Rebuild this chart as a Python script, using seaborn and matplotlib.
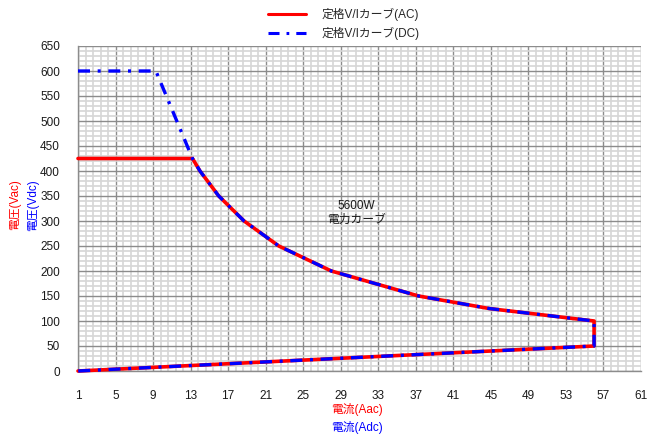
import matplotlib
matplotlib.use("Agg")
import matplotlib.pyplot as plt
from matplotlib.ticker import FixedLocator, NullFormatter
from matplotlib.lines import Line2D
import numpy as np
import seaborn as sns

# Rated V/I curve, AC side (current in A, voltage in V)
ac_current = [1, 13.2, 14, 16, 18.7, 22.4, 28, 37.3, 44.8, 56, 56, 1]
ac_voltage = [425, 425, 400, 350, 300, 250, 200, 150, 125, 100, 50, 0]

# Rated V/I curve, DC side
dc_current = [1, 9.3, 13.2, 14, 16, 18.7, 22.4, 28, 37.3, 44.8, 56, 56, 1]
dc_voltage = [600, 600, 425, 400, 350, 300, 250, 200, 150, 125, 100, 50, 0]

x_ticks = [1, 5, 9, 13, 17, 21, 25, 29, 33, 37, 41, 45, 49, 53, 57, 61]
y_ticks = [0, 50, 100, 150, 200, 250, 300, 350, 400, 450, 500, 550, 600, 650]

ac_label = "定格V/Iカーブ(AC)"
dc_label = "定格V/Iカーブ(DC)"
power_note = "5600W\n電力カーブ"

sns.set_style("white")
plt.rcParams["font.family"] = ["Liberation Sans", "Noto Sans CJK JP", "DejaVu Sans"]
plt.rcParams["font.size"] = 8

fig = plt.figure(figsize=(6.52, 4.38), dpi=100)
ax = fig.add_axes([78 / 652, 1 - 371 / 438, (641 - 78) / 652, (371 - 46) / 438])

dash_pattern = (0, (3.6, 2.3, 0.9, 2.3))

sns.lineplot(x=ac_current, y=ac_voltage, sort=False, estimator=None,
             color="#ff0000", linewidth=2.6, ax=ax, label=ac_label, clip_on=False,
             zorder=3)
sns.lineplot(x=dc_current, y=dc_voltage, sort=False, estimator=None,
             color="#0000ff", linewidth=2.4, ax=ax, label=dc_label, clip_on=False,
             zorder=4)
dc_line = ax.lines[-1]
dc_line.set_linestyle(dash_pattern)
dc_line.set_dash_capstyle("butt")

ax.set_xlim(1, 61)
ax.set_ylim(0, 650)

ax.xaxis.set_major_locator(FixedLocator(x_ticks))
ax.yaxis.set_major_locator(FixedLocator(y_ticks))
ax.xaxis.set_minor_locator(FixedLocator(np.arange(1, 61.01, 0.8)))
ax.yaxis.set_minor_locator(FixedLocator(np.arange(0, 650.1, 10)))
ax.xaxis.set_minor_formatter(NullFormatter())
ax.yaxis.set_minor_formatter(NullFormatter())

ax.grid(which="minor", color="#d6d6d6", linewidth=1.2, zorder=0)
ax.grid(which="major", color="#8c8c8c", linewidth=1.0, zorder=1)
ax.set_axisbelow(True)

for side in ("top", "right"):
    ax.spines[side].set_visible(False)
for side in ("left", "bottom"):
    ax.spines[side].set_color("#8c8c8c")
    ax.spines[side].set_linewidth(1.0)

ax.tick_params(which="major", direction="out", length=5, width=1,
               color="#8c8c8c", labelsize=8.5, labelcolor="#1a1a1a")
ax.tick_params(axis="x", which="major", pad=9)
ax.tick_params(axis="y", which="major", pad=8)
ax.tick_params(which="minor", length=0)

ax.set_xlabel("")
ax.set_ylabel("")

ax.text(30.7, 316, power_note, ha="center", va="center", fontsize=8.5,
        color="#1a1a1a", linespacing=1.25, zorder=5)

# Axis titles, one per side (AC in red, DC in blue)
fig.text(15 / 652, 1 - 205 / 438, "電圧(Vac)", rotation=90, ha="center",
         va="center", color="#ff0000", fontsize=8.5)
fig.text(33 / 652, 1 - 205 / 438, "電圧(Vdc)", rotation=90, ha="center",
         va="center", color="#0000ff", fontsize=8.5)
fig.text(357 / 652, 1 - 410 / 438, "電流(Aac)", ha="center", va="center",
         color="#ff0000", fontsize=8.5)
fig.text(357 / 652, 1 - 428 / 438, "電流(Adc)", ha="center", va="center",
         color="#0000ff", fontsize=8.5)

ax.legend_.remove()
handles = [
    Line2D([], [], color="#ff0000", linewidth=2.2),
    Line2D([], [], color="#0000ff", linewidth=2.2, linestyle=dash_pattern),
]
fig.legend(handles, [ac_label, dc_label], loc="upper center",
           bbox_to_anchor=(0.527, 1.005), frameon=False, fontsize=8.5,
           handlelength=3.2, handletextpad=1.3, labelspacing=0.45)

fig.savefig("out.png", dpi=100)
